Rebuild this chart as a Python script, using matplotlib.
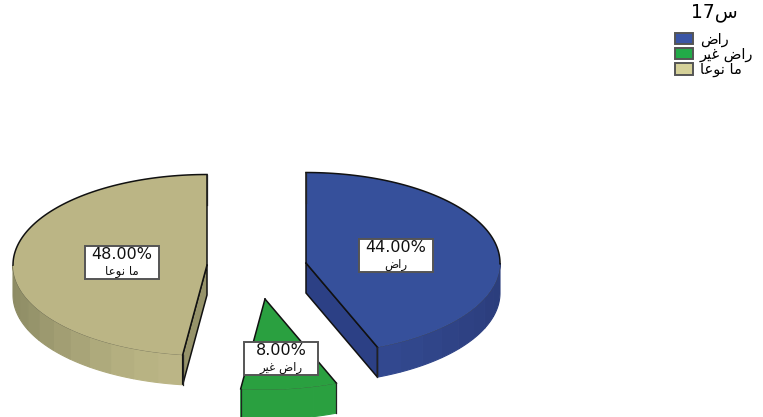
import re
import numpy as np
import matplotlib
matplotlib.use("Agg")
import matplotlib.pyplot as plt
from matplotlib.patches import Patch, Rectangle
from matplotlib.colors import to_rgb

# ---- data ----
categories = ["راض", "راض غير", "ما نوعا"]
percents = [44.0, 8.0, 48.0]
legend_title = "س17"

# ---- style ----
top_colors = ["#36509b", "#2aa040", "#bbb585"]
legend_colors = ["#3a55a5", "#22aa48", "#d5d199"]
wall_colors = ["#2c4085", "#238a37", "#96936a"]
rim_dark = ["#2b3d7c", "#2a9c3e", "#8d8b64"]
rim_light = ["#334b93", "#2aa040", "#bdb787"]
centers = [(306, 263), (265, 299), (207, 265)]
label_radius = [0.47, 0.66, 0.44]
RX, RY, DEPTH = 194, 90.5, 30
BOX_W, BOX_H = 74, 33

W, H = 763, 417

# Arabic letters: isolated, final, initial, medial presentation forms
FORMS = {
    "ر": (0xFEAD, 0xFEAE, None, None), "ا": (0xFE8D, 0xFE8E, None, None),
    "و": (0xFEED, 0xFEEE, None, None), "ض": (0xFEBD, 0xFEBE, 0xFEBF, 0xFEC0),
    "غ": (0xFECD, 0xFECE, 0xFECF, 0xFED0), "ي": (0xFEF1, 0xFEF2, 0xFEF3, 0xFEF4),
    "ن": (0xFEE5, 0xFEE6, 0xFEE7, 0xFEE8), "ع": (0xFEC9, 0xFECA, 0xFECB, 0xFECC),
    "م": (0xFEE1, 0xFEE2, 0xFEE3, 0xFEE4), "س": (0xFEB1, 0xFEB2, 0xFEB3, 0xFEB4),
}


def shape_run(run):
    out = []
    for i, ch in enumerate(run):
        if ch not in FORMS:
            out.append(ch)
            continue
        prev = run[i - 1] if i else ""
        nxt = run[i + 1] if i + 1 < len(run) else ""
        join_prev = prev in FORMS and FORMS[prev][2] is not None
        join_next = nxt in FORMS and FORMS[ch][2] is not None
        idx = 3 if join_prev and join_next else 1 if join_prev else 2 if join_next else 0
        out.append(chr(FORMS[ch][idx]))
    return "".join(reversed(out))


def shape(text):
    runs = re.findall(r"[0-9.%]+|[^0-9.%]+", text)
    return "".join(r if r[0] in "0123456789.%" else shape_run(r) for r in reversed(runs))


def px(cx, cy, th, r=1.0):
    return cx + RX * r * np.sin(th), cy - RY * r * np.cos(th)


plt.rcParams["font.family"] = ["DejaVu Sans"]
fig = plt.figure(figsize=(W / 100, H / 100), dpi=100)
ax = fig.add_axes([0, 0, 1, 1])
ax.set_xlim(0, W)
ax.set_ylim(H, 0)
ax.axis("off")

INK = "#111111"
edges = np.cumsum([0] + percents) / 100 * 2 * np.pi
for i, (name, pct) in enumerate(zip(categories, percents)):
    a0, a1 = edges[i], edges[i + 1]
    cx, cy = centers[i]
    th = np.linspace(a0, a1, 120)
    xs, ys = px(cx, cy, th)

    # outer rim, only where it faces the viewer, in flat shaded bands
    lo, hi = max(a0, np.pi / 2), min(a1, 3 * np.pi / 2)
    bands = max(4, int((hi - lo) / np.radians(7)))
    dark, light = np.array(to_rgb(rim_dark[i])), np.array(to_rgb(rim_light[i]))
    for k in range(bands):
        seg = np.linspace(lo + (hi - lo) * k / bands, lo + (hi - lo) * (k + 1) / bands, 8)
        fx, fy = px(cx, cy, seg)
        t = np.cos(seg.mean() - np.pi) ** 2
        c = dark + (light - dark) * t
        ax.fill(np.r_[fx, fx[::-1]], np.r_[fy, fy[::-1] + DEPTH],
                facecolor=c, edgecolor=c, lw=0.8, zorder=2)
    fx, fy = px(cx, cy, np.linspace(lo, hi, 60))
    ax.plot(fx, fy, color="#44443a", lw=0.5, alpha=0.6, zorder=4)

    # radial walls that face the viewer
    if np.cos(a1) < 0 and np.sin(a1) > 0.01:
        ex, ey = px(cx, cy, a1)
        ax.fill([cx, ex, ex, cx], [cy, ey, ey + DEPTH, cy + DEPTH],
                facecolor=wall_colors[i], edgecolor=INK, lw=1.1, zorder=3)
    if np.cos(a0) < 0 and np.sin(a0) < -0.01:
        ex, ey = px(cx, cy, a0)
        ax.fill([cx, ex, ex, cx], [cy, ey, ey + DEPTH, cy + DEPTH],
                facecolor=wall_colors[i], edgecolor=INK, lw=1.1, zorder=3)

    # top face and dark outlines
    ax.fill(np.r_[cx, xs], np.r_[cy, ys], color=top_colors[i], lw=0, zorder=5)
    back = th[np.cos(th) >= -0.02]
    for s in (back[back < np.pi], back[back > np.pi]):
        if len(s):
            bx, by = px(cx, cy, s)
            ax.plot(bx, by, color=INK, lw=1.1, zorder=6)
    for edge in (a0, a1):
        ex, ey = px(cx, cy, edge)
        ax.plot([cx, ex], [cy, ey], color=INK, lw=1.1, zorder=6)
        ax.plot([ex, ex], [ey, ey + DEPTH], color="#222222", lw=0.9, zorder=6)

    # value label: box, percentage, category name
    mid = (a0 + a1) / 2
    lx, ly = px(cx, cy, mid, label_radius[i])
    ax.add_patch(Rectangle((lx - BOX_W / 2, ly - BOX_H / 2), BOX_W, BOX_H, facecolor="white",
                           edgecolor="#555555", lw=1.4, zorder=10))
    ax.text(lx, ly - 8, f"{pct:.2f}%", ha="center", va="center", fontsize=11.5,
            color="#111111", zorder=11)
    ax.text(lx, ly + 9, shape(name), ha="center", va="center", fontsize=8.5,
            color="#111111", zorder=11)

# legend
handles = [Patch(facecolor=c, edgecolor="#555555", lw=1.4) for c in legend_colors]
leg = ax.legend(handles, [shape(c) for c in categories], title=shape(legend_title),
                loc="upper left", bbox_to_anchor=(675 / W, 1 - 2 / H), frameon=False,
                fontsize=10.5, title_fontsize=13.5, handlelength=1.25, handleheight=0.85,
                handletextpad=0.45, labelspacing=0.0, borderpad=0.0, borderaxespad=0.0)
leg._legend_box.sep = 7
leg.set_zorder(20)

fig.savefig("out.png", dpi=100)
